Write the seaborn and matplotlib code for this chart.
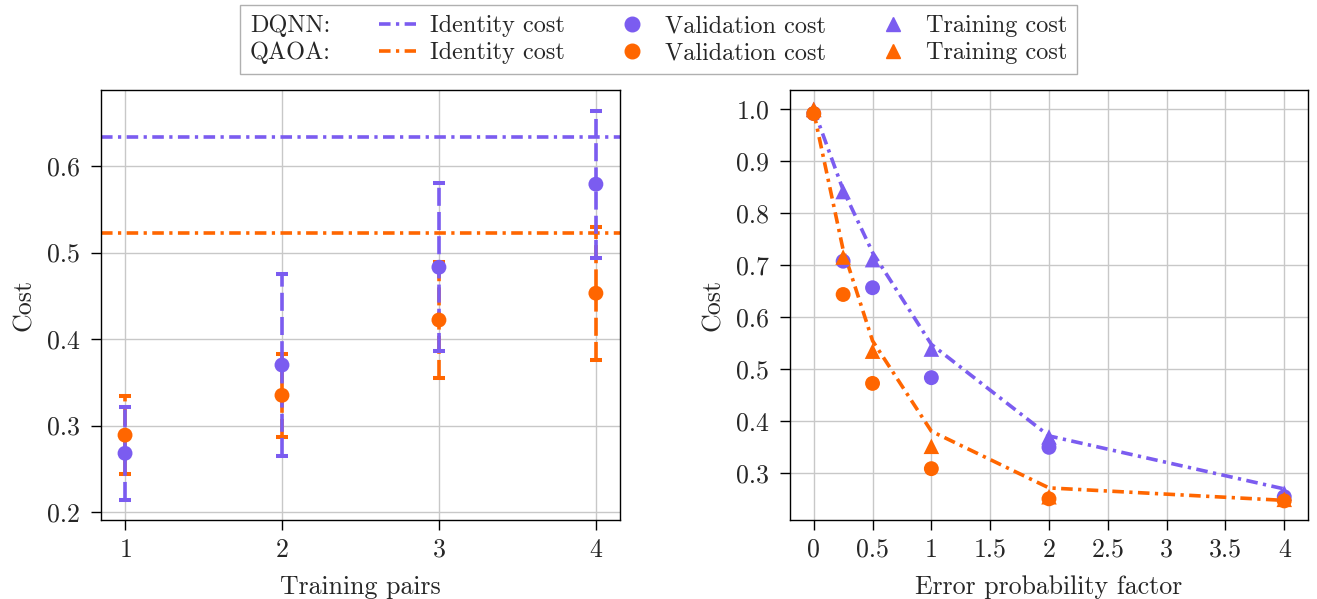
import matplotlib
matplotlib.use("Agg")
import matplotlib.pyplot as plt
from matplotlib.lines import Line2D
import numpy as np
import pandas as pd
import seaborn as sns

# left panel: cost vs number of training pairs
pairs = [1, 2, 3, 4]
dqnn_val = [0.268, 0.370, 0.483, 0.579]
dqnn_err = [0.054, 0.105, 0.097, 0.085]
qaoa_val = [0.289, 0.335, 0.422, 0.453]
qaoa_err = [0.045, 0.048, 0.067, 0.077]
dqnn_identity = 0.633
qaoa_identity = 0.522

# right panel: cost vs error probability factor
factor = [0, 0.25, 0.5, 1, 2, 4]
dqnn_id_curve = [1.0, 0.845, 0.725, 0.548, 0.372, 0.270]
dqnn_train = [1.0, 0.842, 0.711, 0.539, 0.370, 0.262]
dqnn_valid = [0.992, 0.708, 0.657, 0.484, 0.350, 0.255]
qaoa_id_curve = [0.995, 0.730, 0.555, 0.381, 0.272, 0.248]
qaoa_train = [1.0, 0.716, 0.535, 0.352, 0.255, 0.250]
qaoa_valid = [0.992, 0.644, 0.473, 0.309, 0.251, 0.247]

PURPLE = "#7b5cf0"
ORANGE = "#ff6600"
DASHDOT = (0, (3.2, 1.5, 0.9, 1.5))
LW = 2.6
FS = 18.6
LEG_FS = 17.5

sns.set_style("whitegrid", {"axes.edgecolor": "black", "grid.color": "#c8c8c8",
                            "xtick.bottom": True, "ytick.left": True})
plt.rcParams["font.family"] = ["cmr10", "DejaVu Serif"]
plt.rcParams["mathtext.fontset"] = "cm"
plt.rcParams["axes.formatter.use_mathtext"] = True
plt.rcParams["axes.unicode_minus"] = False

fig = plt.figure(figsize=(13.17, 5.99), dpi=100)
ax1 = fig.add_axes([0.0767, 0.132, 0.394, 0.718])
ax2 = fig.add_axes([0.600, 0.132, 0.393, 0.718])

# ---- left
for ident, col in [(dqnn_identity, PURPLE), (qaoa_identity, ORANGE)]:
    ax1.axhline(ident, color=col, lw=LW, ls=DASHDOT, zorder=2)

for vals, errs, col, z in [(qaoa_val, qaoa_err, ORANGE, 3), (dqnn_val, dqnn_err, PURPLE, 4)]:
    _, caps, bars = ax1.errorbar(pairs, vals, yerr=errs, fmt="none", ecolor=col,
                                 elinewidth=LW, capsize=4, capthick=LW + 0.3, zorder=z)
    bars[0].set_linestyle((0, (5.0, 1.7)))
    sns.scatterplot(x=pairs, y=vals, ax=ax1, color=col, s=115, marker="o",
                    edgecolor="none", zorder=z + 2)

ax1.set_xlim(0.847, 4.153)
ax1.set_ylim(0.191, 0.688)
ax1.set_xticks(pairs)
ax1.set_yticks([0.2, 0.3, 0.4, 0.5, 0.6])
ax1.set_yticklabels(["%.1f" % v for v in [0.2, 0.3, 0.4, 0.5, 0.6]])
ax1.set_xlabel("Training pairs", fontsize=FS, labelpad=10)
ax1.set_ylabel("Cost", fontsize=FS, labelpad=8)

# ---- right
for idc, tr, va, col in [(dqnn_id_curve, dqnn_train, dqnn_valid, PURPLE),
                         (qaoa_id_curve, qaoa_train, qaoa_valid, ORANGE)]:
    sns.lineplot(x=factor, y=idc, ax=ax2, color=col, lw=LW, ls=DASHDOT, zorder=3)
    sns.scatterplot(x=factor, y=tr, ax=ax2, color=col, s=125, marker="^",
                    edgecolor="none", zorder=4)
    sns.scatterplot(x=factor, y=va, ax=ax2, color=col, s=115, marker="o",
                    edgecolor="none", zorder=4)

ax2.set_xlim(-0.2, 4.2)
ax2.set_ylim(0.2104, 1.0376)
xt = [0, 0.5, 1, 1.5, 2, 2.5, 3, 3.5, 4]
ax2.set_xticks(xt)
ax2.set_xticklabels(["%g" % v for v in xt])
yt = [0.3, 0.4, 0.5, 0.6, 0.7, 0.8, 0.9, 1.0]
ax2.set_yticks(yt)
ax2.set_yticklabels(["%.1f" % v for v in yt])
ax2.set_xlabel("Error probability factor", fontsize=FS, labelpad=10)
ax2.set_ylabel("Cost", fontsize=FS, labelpad=8)

for ax in (ax1, ax2):
    ax.tick_params(labelsize=FS, length=7, width=1, color="black")
    ax.tick_params(axis="y", pad=8)
    ax.tick_params(axis="x", pad=6)
    ax.grid(True, lw=1)
    for s in ax.spines.values():
        s.set_linewidth(1)
    ax.set_axisbelow(True)

# ---- shared legend
blank = Line2D([], [], lw=0)
handles = [
    blank, blank,
    Line2D([], [], color=PURPLE, lw=LW, ls=DASHDOT),
    Line2D([], [], color=ORANGE, lw=LW, ls=DASHDOT),
    Line2D([], [], color=PURPLE, marker="o", lw=0, markersize=10.5),
    Line2D([], [], color=ORANGE, marker="o", lw=0, markersize=10.5),
    Line2D([], [], color=PURPLE, marker="^", lw=0, markersize=10.5),
    Line2D([], [], color=ORANGE, marker="^", lw=0, markersize=10.5),
]
labels = ["DQNN:", "QAOA:", "Identity cost", "Identity cost",
          "Validation cost", "Validation cost", "Training cost", "Training cost"]
leg = fig.legend(handles, labels, ncol=4, loc="center", bbox_to_anchor=(0.5, 0.934),
                 fontsize=LEG_FS, frameon=True, fancybox=False, edgecolor="#b0b0b0",
                 framealpha=1, handlelength=1.5, handletextpad=0.6, columnspacing=2.0,
                 labelspacing=0.2, borderpad=0.4, borderaxespad=0)
leg.get_frame().set_linewidth(1)
# first column has only text, no handle
first_col = leg._legend_handle_box.get_children()[0]
for row in first_col.get_children():
    row.sep = 0
    row.get_children()[0].width = 0

fig.savefig("out.png", dpi=100)
